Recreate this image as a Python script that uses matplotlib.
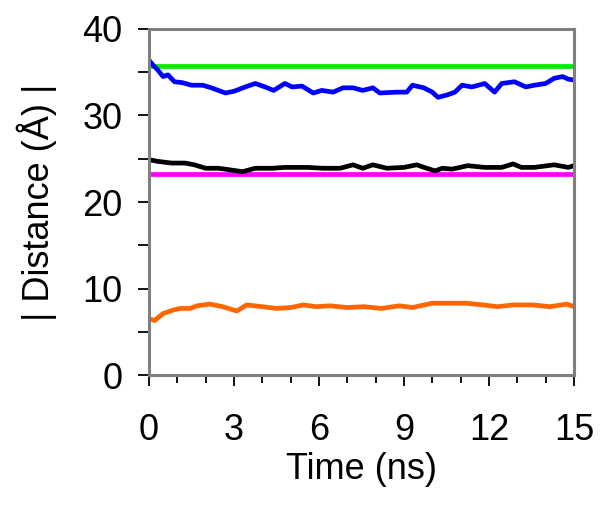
import matplotlib.pyplot as plt
from matplotlib.ticker import MultipleLocator

plt.rcParams['font.family'] = ['Liberation Sans', 'DejaVu Sans']

# blue trace (ns, Å)
t_blue = [0, 0.15, 0.3, 0.5, 0.67, 0.9, 1.17, 1.5, 1.9, 2.2, 2.7, 3.0, 3.4, 3.75,
          4.1, 4.4, 4.8, 5.05, 5.4, 5.8, 6.1, 6.5, 6.85, 7.2, 7.55, 7.9, 8.15,
          8.75, 9.1, 9.3, 9.7, 10.0, 10.2, 10.55, 10.8, 11.05, 11.4, 11.85, 12.2,
          12.45, 12.9, 13.3, 13.6, 14.0, 14.3, 14.6, 14.8, 15.0]
d_blue = [36.4, 35.8, 35.3, 34.5, 34.7, 33.9, 33.8, 33.5, 33.5, 33.2, 32.6, 32.8,
          33.3, 33.7, 33.3, 32.9, 33.7, 33.3, 33.4, 32.6, 32.9, 32.7, 33.2, 33.2,
          32.9, 33.2, 32.6, 32.7, 32.7, 33.5, 33.2, 32.7, 32.1, 32.4, 32.7, 33.5,
          33.3, 33.7, 32.7, 33.7, 33.9, 33.3, 33.5, 33.7, 34.3, 34.5, 34.2, 34.1]

# black trace
t_black = [0, 0.3, 0.8, 1.27, 1.6, 2.0, 2.45, 2.9, 3.3, 3.75, 4.35, 4.8, 5.1, 5.6,
           6.15, 6.75, 7.2, 7.55, 7.9, 8.4, 9.0, 9.45, 9.8, 10.1, 10.35, 10.7,
           11.25, 11.85, 12.45, 12.85, 13.15, 13.6, 14.3, 14.8, 15.0]
d_black = [24.9, 24.7, 24.5, 24.5, 24.3, 23.9, 23.9, 23.7, 23.5, 23.9, 23.9, 24.0,
           24.0, 24.0, 23.9, 23.9, 24.3, 23.9, 24.3, 23.9, 24.0, 24.3, 23.9, 23.6,
           23.9, 23.8, 24.2, 24.0, 24.0, 24.4, 24.0, 24.0, 24.3, 24.0, 24.2]

# orange trace
t_orange = [0, 0.2, 0.5, 0.85, 1.1, 1.45, 1.7, 2.15, 2.6, 3.1, 3.45, 4.0, 4.5,
            5.0, 5.45, 5.9, 6.4, 7.0, 7.6, 8.2, 8.85, 9.3, 10.0, 10.6, 11.2,
            11.8, 12.3, 12.85, 13.55, 14.15, 14.75, 15.0]
d_orange = [6.5, 6.3, 7.1, 7.5, 7.7, 7.7, 8.0, 8.2, 7.9, 7.4, 8.1, 7.9, 7.7, 7.8,
            8.1, 7.9, 8.0, 7.8, 7.9, 7.7, 8.0, 7.8, 8.3, 8.3, 8.3, 8.1, 7.9, 8.1,
            8.1, 7.9, 8.2, 7.9]

# constant reference levels
t_ref = [0, 15]
green_level = 35.7
magenta_level = 23.2

fig = plt.figure(figsize=(6.08, 5.05), dpi=100)
ax = fig.add_axes([0.245, 0.2574, 0.699, 0.6852])

lw = 3.4
ax.plot(t_ref, [green_level] * 2, color='#00ee00', lw=lw, solid_capstyle='butt')
ax.plot(t_ref, [magenta_level] * 2, color='#ff00ff', lw=lw, solid_capstyle='butt')
ax.plot(t_blue, d_blue, color='#0000ff', lw=lw)
ax.plot(t_black, d_black, color='black', lw=lw)
ax.plot(t_orange, d_orange, color='#ff6600', lw=lw)

ax.set_xlim(0, 15)
ax.set_ylim(0, 40)
ax.xaxis.set_major_locator(MultipleLocator(3))
ax.xaxis.set_minor_locator(MultipleLocator(1))
ax.yaxis.set_major_locator(MultipleLocator(10))
ax.yaxis.set_minor_locator(MultipleLocator(5))

for s in ax.spines.values():
    s.set_color('#808080')
    s.set_linewidth(2.2)

fs = 26
ax.tick_params(which='major', direction='out', length=8, width=1.3, color='black',
               labelsize=fs)
ax.tick_params(axis='x', which='major', pad=19)
ax.tick_params(axis='y', which='major', pad=11)
ax.tick_params(axis='x', which='minor', direction='out', length=6, width=1.3, color='black')
ax.tick_params(axis='y', which='minor', direction='out', length=8, width=1.3, color='black')

ax.set_xlabel('Time (ns)', fontsize=fs, labelpad=3)
ax.set_ylabel('| Distance (Å) |', fontsize=fs, labelpad=18)

fig.savefig('out.png', dpi=100)
